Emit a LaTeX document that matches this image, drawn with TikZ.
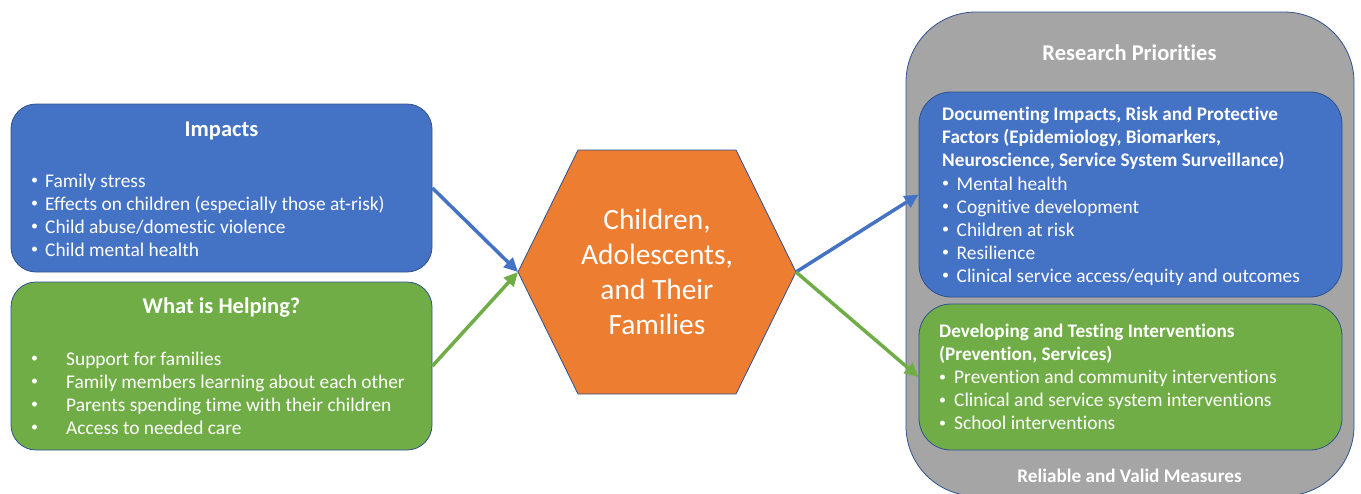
\documentclass[tikz,border=0pt]{standalone}
\usepackage{fontspec}
\setmainfont{Carlito}[Ligatures=NoCommon]
\usepackage{tikz}
\usetikzlibrary{arrows.meta}
\usetikzlibrary{positioning}
\definecolor{boxblue}{HTML}{4472C4}
\definecolor{boxgreen}{HTML}{70AD47}
\definecolor{hexorange}{HTML}{ED7D31}
\definecolor{outergray}{HTML}{A5A5A5}
\definecolor{edgeblue}{HTML}{2F528F}
\newcommand{\bul}{\raisebox{2.2pt}{\fontsize{14}{14}\selectfont\textbullet}}

\begin{document}
\begin{tikzpicture}[x=1pt,y=-1pt,line join=round,>={Triangle[length=14pt,width=13pt]},
  panel/.style={draw=edgeblue,line width=0.8pt,rounded corners=25pt,inner sep=0pt},
  txt/.style={text=white,inner sep=0pt,anchor=base west,font=\fontsize{19.4}{23}\selectfont},
  hd/.style={txt,font=\fontsize{19.2}{23}\selectfont\bfseries},
  ttl/.style={text=white,inner sep=0pt,anchor=base,font=\fontsize{22.5}{26}\selectfont\bfseries},
  hextxt/.style={text=white,inner sep=0pt,anchor=base,font=\fontsize{29.4}{35}\selectfont},
  link/.style={->,line width=3.5pt}]
\useasboundingbox (0,0) rectangle (1361,493);
% left boxes
\node[panel,fill=boxblue,minimum width=421pt,minimum height=168pt] (impacts) at (221.5,188) {};
\node[panel,fill=boxgreen,minimum width=421pt,minimum height=168pt] (helping) at (221.5,366) {};
\node[ttl] (impT) at (221.5,136) {Impacts};
\node[ttl] (helpT) at (221.5,313) {What is Helping?};
\foreach \t [count=\i] in {Family stress,Effects on children (especially those at-risk),Child abuse/domestic violence,Child mental health}{
  \node[txt] (impB\i) at (31,164+23*\i) {\bul};
  \node[txt] (impI\i) at (45,164+23*\i) {\t};
}
\foreach \t [count=\i] in {Support for families,Family members learning about each other,Parents spending time with their children,Access to needed care}{
  \node[txt] (helpB\i) at (31,342+23*\i) {\bul};
  \node[txt] (helpI\i) at (66,342+23*\i) {\t};
}
% hexagon
\coordinate (hexL) at (518,272);
\coordinate (hexR) at (796,272);
\filldraw[fill=hexorange,draw=edgeblue,line width=0.8pt] (hexL) -- (578,150) -- (736,150) -- (hexR) -- (736,394) -- (578,394) -- cycle;
\node[hextxt] (hex1) at (657,229.3) {Children,};
\node[hextxt] (hex2) at (657,264.5) {Adolescents,};
\node[hextxt] (hex3) at (657,299.3) {and Their};
\node[hextxt] (hex4) at (657,334) {Families};
% research priorities
\node[panel,fill=outergray,rounded corners=70pt,minimum width=448pt,minimum height=484pt] (research) at (1130,254) {};
\node[ttl] (resT) at (1129.5,60.7) {Research Priorities};
\node[ttl,font=\fontsize{19.2}{23}\selectfont\bfseries] (measures) at (1129.5,482) {Reliable and Valid Measures};
\node[panel,fill=boxblue,rounded corners=32pt,minimum width=423pt,minimum height=205pt] (docu) at (1130.5,194.5) {};
\node[panel,fill=boxgreen,rounded corners=32pt,minimum width=423pt,minimum height=146pt] (devel) at (1130.5,377) {};
\foreach \t [count=\i] in {{Documenting Impacts, Risk and Protective},{Factors (Epidemiology, Biomarkers,},{Neuroscience, Service System Surveillance)}}{
  \node[hd] (docuH\i) at (942,97+23*\i) {\t};
}
\foreach \t [count=\i] in {Mental health,Cognitive development,Children at risk,Resilience,Clinical service access/equity and outcomes}{
  \node[txt] (docuB\i) at (942,167+23*\i) {\bul};
  \node[txt] (docuI\i) at (956.5,167+23*\i) {\t};
}
\foreach \t [count=\i] in {Developing and Testing Interventions,{(Prevention, Services)}}{
  \node[hd] (develH\i) at (939,314.5+23*\i) {\t};
}
\foreach \t [count=\i] in {Prevention and community interventions,Clinical and service system interventions,School interventions}{
  \node[txt] (develB\i) at (939,360.3+23*\i) {\bul};
  \node[txt] (develI\i) at (954,360.3+23*\i) {\t};
}
% arrows
\draw[link,boxblue] (impacts.east) -- (hexL);
\draw[link,boxgreen] (helping.east) -- (hexL);
\draw[link,boxblue] (hexR) -- (docu.west);
\draw[link,boxgreen] (hexR) -- (devel.west);
\end{tikzpicture}
\end{document}
